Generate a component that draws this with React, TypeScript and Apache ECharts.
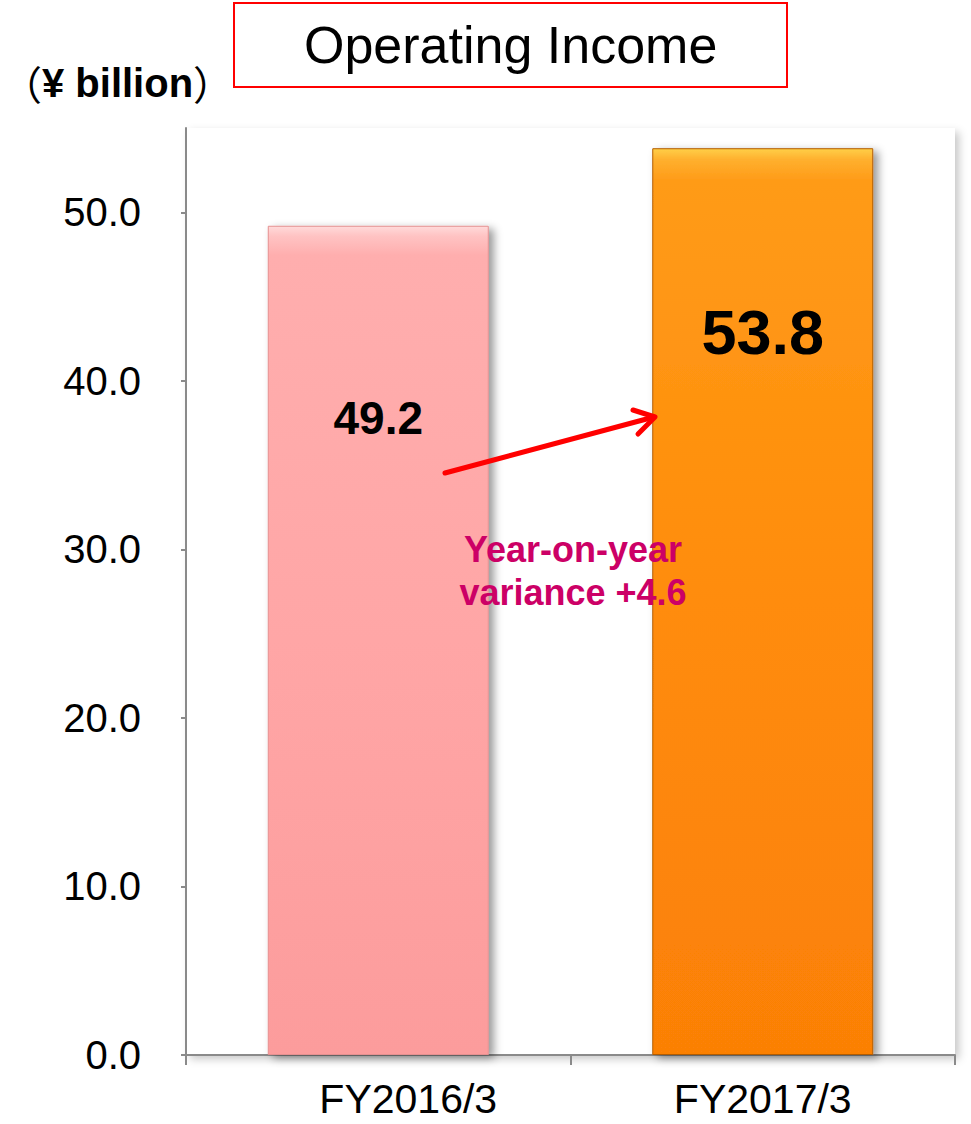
import React, { useEffect, useRef } from "react";
import * as echarts from "echarts";

const categories = ["FY2016/3", "FY2017/3"];
const operatingIncome = [49.2, 53.8];
const yTickValues = [0, 10, 20, 30, 40, 50];
const titleText = "Operating Income";
const unitInner = "¥ billion";
const varianceText = "Year-on-year\nvariance +4.6";

const FONT = '"Liberation Sans", Arial, Helvetica, sans-serif';
const CJK = '"Noto Sans CJK JP", "Noto Sans CJK SC", sans-serif';

export default function App() {
  const ref = useRef<HTMLDivElement>(null);
  useEffect(() => {
    document.body.style.margin = "0";
    const chart = echarts.init(ref.current!, null, { renderer: "svg" });

    const pinkGrad = new echarts.graphic.LinearGradient(0, 0, 0, 1, [
      { offset: 0, color: "#ffdada" },
      { offset: 0.012, color: "#ffc3c3" },
      { offset: 0.035, color: "#ffaeae" },
      { offset: 0.5, color: "#ffa6a6" },
      { offset: 1, color: "#fc9c9c" },
    ]);
    const orangeGrad = new echarts.graphic.LinearGradient(0, 0, 0, 1, [
      { offset: 0, color: "#ffcf48" },
      { offset: 0.012, color: "#ffb02e" },
      { offset: 0.035, color: "#ff9b18" },
      { offset: 0.5, color: "#ff8c0a" },
      { offset: 1, color: "#fb8006" },
    ]);
    const barStyles = [
      { color: pinkGrad, borderColor: "#e59090" },
      { color: orangeGrad, borderColor: "#b35c00" },
    ];
    const labelStyles = [
      { fontSize: 46, offset: 192 },
      { fontSize: 63, offset: 184 },
    ];
    const catLabelPadding = [
      [0, 0, 0, 60],
      [0, 0, 0, 0],
    ];

    const barData = operatingIncome.map((v, i) => ({
      value: v,
      itemStyle: {
        color: barStyles[i].color,
        borderColor: barStyles[i].borderColor,
        borderWidth: 1,
        shadowColor: "rgba(0,0,0,0.4)",
        shadowBlur: 8,
        shadowOffsetX: 5,
        shadowOffsetY: 3,
      },
      label: {
        show: true,
        position: ["50%", labelStyles[i].offset],
        align: "center",
        verticalAlign: "middle",
        formatter: (p: any) => p.value.toFixed(1),
        fontSize: labelStyles[i].fontSize,
        fontWeight: "bold",
        fontFamily: FONT,
        color: "#000",
      },
    }));

    chart.setOption({
      animation: false,
      backgroundColor: "#fff",
      title: {
        text: titleText,
        left: 234,
        top: 3,
        padding: [12, 70],
        borderColor: "#ff0000",
        borderWidth: 2,
        textStyle: {
          fontSize: 52,
          fontWeight: "normal",
          fontFamily: FONT,
          color: "#000",
          lineHeight: 60,
        },
      },
      grid: {
        left: 186,
        right: 16,
        top: 128,
        bottom: 69,
        show: true,
        backgroundColor: "#fff",
        borderWidth: 0,
        shadowColor: "rgba(0,0,0,0.22)",
        shadowBlur: 8,
        shadowOffsetX: 4,
        shadowOffsetY: 4,
      },
      xAxis: {
        type: "category",
        data: categories.map((c, i) => ({
          value: c,
          textStyle: { padding: catLabelPadding[i] },
        })),
        axisLine: { show: true, lineStyle: { color: "#8a8a8a", width: 2 } },
        axisTick: { show: true, length: 10, lineStyle: { color: "#8a8a8a", width: 2 } },
        axisLabel: {
          fontSize: 41,
          fontFamily: FONT,
          color: "#000",
          margin: 23,
        },
        splitLine: { show: false },
      },
      yAxis: {
        type: "value",
        min: 0,
        max: 55,
        interval: 10,
        axisLine: { show: true, lineStyle: { color: "#8a8a8a", width: 2 } },
        axisTick: {
          show: true,
          length: 5,
          customValues: yTickValues,
          lineStyle: { color: "#8a8a8a", width: 2 },
        },
        axisLabel: {
          customValues: yTickValues,
          formatter: (v: number) => v.toFixed(1),
          fontSize: 40,
          fontFamily: FONT,
          color: "#000",
          margin: 45,
        },
        splitLine: { show: false },
      },
      series: [
        {
          type: "bar",
          data: barData,
          barWidth: 221,
        },
      ],
      graphic: [
        {
          type: "text",
          left: 2,
          top: 63,
          style: {
            text: "{p|（}{t|" + unitInner + "}{p|）}",
            rich: {
              p: { fontSize: 40, fontFamily: CJK, fontWeight: "normal", fill: "#000" },
              t: { fontSize: 40, fontFamily: FONT, fontWeight: "bold", fill: "#000" },
            },
            fill: "#000",
          },
        },
        {
          type: "line",
          z: 100,
          shape: { x1: 445, y1: 473, x2: 654, y2: 417 },
          style: { stroke: "#ff0000", lineWidth: 5, lineCap: "round" },
        },
        {
          type: "polyline",
          z: 100,
          shape: { points: [[633, 410], [655, 417], [638, 434]] },
          style: { stroke: "#ff0000", lineWidth: 5, lineCap: "round", lineJoin: "round", fill: null },
        },
        {
          type: "text",
          z: 100,
          x: 573,
          y: 571,
          style: {
            text: varianceText,
            fontSize: 36,
            fontWeight: "bold",
            fontFamily: FONT,
            fill: "#cc0066",
            align: "center",
            verticalAlign: "middle",
            lineHeight: 43,
          },
        },
      ],
    });
    return () => chart.dispose();
  }, []);
  return <div ref={ref} style={{ width: 971, height: 1124 }} />;
}
